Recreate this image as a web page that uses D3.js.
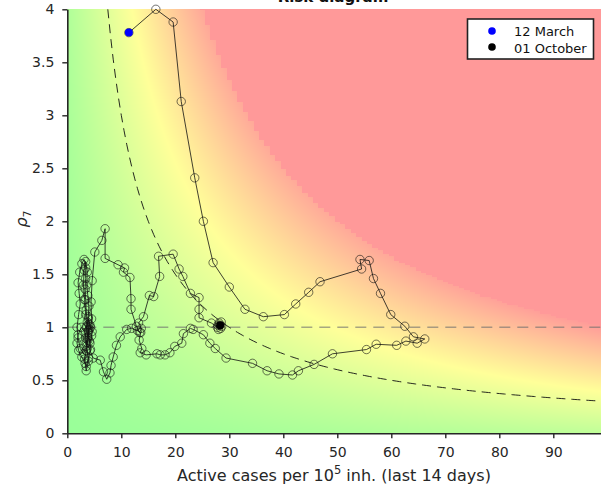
<!DOCTYPE html>
<html><head><meta charset="utf-8">
<script src="https://cdn.jsdelivr.net/npm/d3@7"></script>
<style>body{margin:0;background:#fff} svg{display:block} text{font-family:"DejaVu Sans",sans-serif}</style>
</head><body><div id="chart"></div>
<script>
// ---- data ----
const legendLabels = ["12 March", "01 October"];
const xTicks = [0,10,20,30,40,50,60,70,80,90];
const yTicks = [0,0.5,1,1.5,2,2.5,3,3.5,4];
const epgDashed = 30;      // dashed iso-risk curve
const epgRed = 100;        // red zone threshold
// active cases per 1e5 inh. (last 14 days), in date order
const incidence = [
 11.4,16.4,19.6,21.1,23.6,25.2,27.0,30.0,32.9,36.3,40.2,42.3,44.7,46.8,54.5,54.2,55.9,56.7,58.0,59.9,
 62.5,64.1,66.2,64.8,62.7,61.0,57.2,55.4,49.1,45.7,42.8,41.7,39.2,37.0,34.3,29.4,27.4,26.4,25.2,23.3,
 22.8,21.5,21.2,19.9,19.0,18.1,17.2,16.6,14.6,13.5,13.8,13.3,13.6,13.0,11.9,11.0,9.8,9.1,8.5,8.1,
 7.9,7.3,6.7,6.1,4.8,
 4.2,3.6,3.3,2.6,2.0,1.8,2.1,2.7,3.3,3.5,3.9,3.7,3.4,3.6,3.9,4.1,3.8,3.5,3.0,2.4,
 2.0,1.8,2.1,2.4,2.2,2.0,2.3,2.7,3.1,3.4,3.4,3.3,3.4,3.5,3.7,3.9,3.8,3.5,3.2,3.5,
 3.9,4.3,4.1,3.9,4.0,4.3,4.5,4.2,3.8,3.6,3.4,3.2,3.0,3.1,3.4,3.7,3.6,3.8,4.0,3.9,
 4.2,4.6,4.5,4.4,4.6,
 5.1,6.4,7.0,7.0,9.4,10.6,10.4,11.6,11.8,11.8,12.8,13.4,13.7,13.2,14.1,15.2,16.0,17.1,16.9,19.6,
 20.7,21.4,22.8,24.4,24.4,24.4,26.7,27.8,28.5,28.0,28.6,28.1,28.4,27.9,28.3
];
// rho_7, same order
const rho = [
 3.78,4.00,3.88,3.13,2.41,2.00,1.61,1.38,1.17,1.10,1.12,1.22,1.33,1.43,1.55,1.64,1.63,1.46,1.32,1.12,
 1.01,0.91,0.89,0.85,0.87,0.83,0.84,0.79,0.75,0.65,0.59,0.55,0.56,0.59,0.66,0.71,0.80,0.85,0.93,0.98,
 0.99,0.94,0.85,0.82,0.76,0.74,0.74,0.75,0.74,0.76,0.80,0.88,0.95,0.97,0.99,0.98,0.91,0.83,0.72,0.64,
 0.57,0.51,0.58,0.69,0.71,
 0.78,0.86,0.95,1.00,0.93,0.85,0.78,0.72,0.66,0.59,0.68,0.80,0.90,1.00,1.08,0.98,0.90,0.82,0.75,0.80,
 0.90,1.00,1.12,1.22,1.32,1.42,1.52,1.60,1.64,1.56,1.46,1.36,1.26,1.16,1.05,0.97,0.88,0.78,0.70,0.63,
 0.71,0.79,0.87,0.95,1.03,1.00,0.92,0.85,0.91,1.01,1.12,1.26,1.40,1.54,1.62,1.52,1.40,1.30,1.20,1.10,
 1.02,0.96,1.08,1.24,1.44,
 1.71,1.82,1.93,1.65,1.59,1.56,1.52,1.47,1.27,1.17,1.01,0.95,0.99,1.04,1.10,1.30,1.29,1.48,1.67,1.69,
 1.55,1.48,1.32,1.28,1.17,1.09,1.04,1.00,1.05,0.98,1.01,1.04,0.99,1.02,1.02
];

// ---- chart ----
const W = 601, H = 488;
const x = d3.scaleLinear().domain([0, 100]).range([67.3, 607.3]);
const y = d3.scaleLinear().domain([0, 4]).range([433.3, 9.3]);
const svg = d3.select("#chart").append("svg").attr("width", W).attr("height", H);

// background risk map
const bx0 = Math.round(x(0)), bx1 = W, by0 = Math.round(y(4)), by1 = Math.round(y(0));
const cw = bx1 - bx0, ch = by1 - by0;
const cnv = document.createElement("canvas"); cnv.width = cw; cnv.height = ch;
const ctx = cnv.getContext("2d");
const img = ctx.createImageData(cw, ch);
const zmax = 130;
for (let j = 0; j < ch; j++) {
  const r = y.invert(by0 + j + 0.5);
  for (let i = 0; i < cw; i++) {
    const a = x.invert(bx0 + i + 0.5);
    const ag = Math.round(a), rg = Math.round(r / 0.02) * 0.02;
    let R, G, B = 153;
    if (ag * rg >= epgRed) { R = 255; G = 153; }
    else {
      const z = a * r + 0.25 * a + 3.5 * r;
      const t = Math.min(z / zmax, 1);
      if (t < 0.5) { R = 153 + 204 * t; G = 255; }
      else { R = 255; G = 255 - 204 * (t - 0.5); }
    }
    const k = (j * cw + i) * 4;
    img.data[k] = R; img.data[k+1] = G; img.data[k+2] = B; img.data[k+3] = 255;
  }
}
ctx.putImageData(img, 0, 0);
svg.append("image").attr("x", bx0).attr("y", by0).attr("width", cw).attr("height", ch)
  .attr("preserveAspectRatio", "none").attr("href", cnv.toDataURL());

// reference lines
svg.append("line").attr("x1", x(0)).attr("x2", W).attr("y1", y(1)).attr("y2", y(1))
  .attr("stroke", "#6e6e6e").attr("stroke-opacity", 0.6).attr("stroke-width", 1.5)
  .attr("stroke-dasharray", "11,7");
const curveX = d3.range(epgDashed / 4, 101, 0.5);
svg.append("path").datum(curveX)
  .attr("d", d3.line().x(d => x(d)).y(d => y(epgDashed / d)))
  .attr("fill", "none").attr("stroke", "#111").attr("stroke-width", 0.9)
  .attr("stroke-dasharray", "9,6");

// trajectory
const pts = incidence.map((v, i) => [v, rho[i]]);
svg.append("path").datum(pts)
  .attr("d", d3.line().x(d => x(d[0])).y(d => y(d[1])))
  .attr("fill", "none").attr("stroke", "#111").attr("stroke-width", 0.8);
svg.append("g").selectAll("circle").data(pts).join("circle")
  .attr("cx", d => x(d[0])).attr("cy", d => y(d[1])).attr("r", 4.2)
  .attr("fill", "none").attr("stroke", "#111").attr("stroke-opacity", 0.85).attr("stroke-width", 0.7);
svg.append("circle").attr("cx", x(pts[0][0])).attr("cy", y(pts[0][1])).attr("r", 4).attr("fill", "#0000ff");
svg.append("circle").attr("cx", x(pts[pts.length-1][0])).attr("cy", y(pts[pts.length-1][1])).attr("r", 4).attr("fill", "#000");

// axes
const ax = svg.append("g").attr("transform", `translate(0,${y(0)})`)
  .call(d3.axisBottom(x).tickValues(xTicks).tickSize(5).tickPadding(9).tickSizeOuter(0));
const ay = svg.append("g").attr("transform", `translate(${x(0)},0)`)
  .call(d3.axisLeft(y).tickValues(yTicks).tickFormat(d => String(d)).tickSize(5).tickPadding(8).tickSizeOuter(0));
[ax, ay].forEach(g => {
  g.select(".domain").attr("stroke", "#262626").attr("stroke-width", 1.6);
  g.selectAll(".tick line").attr("stroke", "#262626").attr("stroke-width", 1.4);
  g.selectAll(".tick text").attr("fill", "#262626").style("font-size", "14px").style("font-family", "DejaVu Sans");
});

// axis titles
const xt = svg.append("text").attr("x", 334).attr("y", 481).attr("text-anchor", "middle")
  .attr("fill", "#262626").style("font-size", "16px");
xt.append("tspan").text("Active cases per 10");
xt.append("tspan").attr("dy", -7).style("font-size", "11.5px").text("5");
xt.append("tspan").attr("dy", 7).text(" inh. (last 14 days)");
const yt = svg.append("text").attr("transform", "translate(27,219) rotate(-90)")
  .attr("text-anchor", "middle").attr("fill", "#262626").style("font-size", "16px");
yt.append("tspan").style("font-style", "italic").text("ρ");
yt.append("tspan").attr("dy", 4).style("font-size", "11px").text("7");

// title (mostly cut off at top, as in the reference)
svg.append("text").attr("x", 333).attr("y", 2).attr("text-anchor", "middle")
  .style("font-size", "15px").style("font-weight", "bold").attr("fill", "#111").text("Risk diagram");

// legend
const lg = svg.append("g");
lg.append("rect").attr("x", 467.5).attr("y", 19).attr("width", 126).attr("height", 40)
  .attr("fill", "#fff").attr("stroke", "#222").attr("stroke-width", 1.6);
const lcol = ["#0000ff", "#000"];
legendLabels.forEach((l, i) => {
  lg.append("circle").attr("cx", 492).attr("cy", 31 + i * 16).attr("r", 3.8).attr("fill", lcol[i]);
  lg.append("text").attr("x", 514).attr("y", 36 + i * 16.5).attr("fill", "#111").style("font-size", "13px").text(l);
});
</script></body></html>
